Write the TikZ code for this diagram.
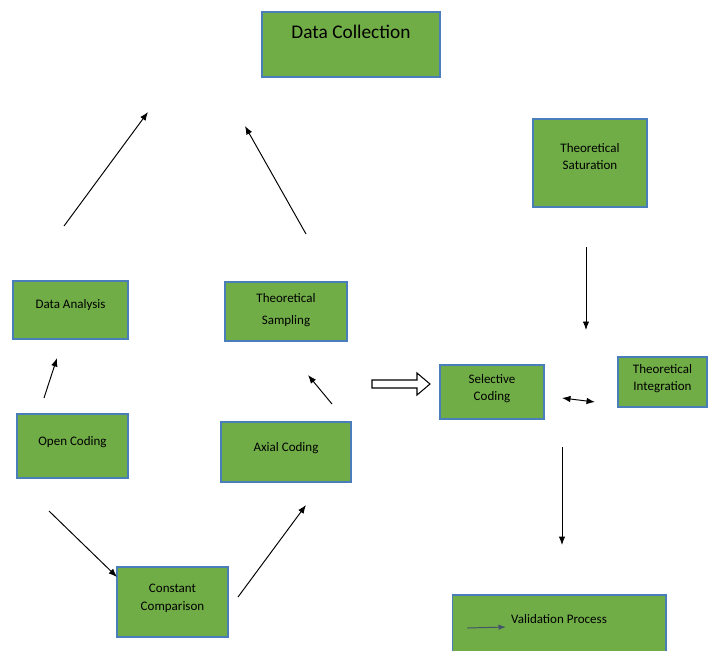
\documentclass[tikz,border=0pt]{standalone}
\usepackage{fontspec}
\setmainfont{Carlito}
\usetikzlibrary{arrows.meta}

\definecolor{boxgreen}{HTML}{70AD47}
\definecolor{boxline}{HTML}{4A7EBB}
\definecolor{slate}{HTML}{44546A}

\begin{document}
\begin{tikzpicture}[
  x=0.02cm, y=-0.02cm,
  font=\fontsize{7.4}{10}\selectfont,
  box/.style={draw=boxline, line width=0.6pt, fill=boxgreen, align=center, inner sep=0pt},
  arr/.style={-{Latex[length=1.7mm,width=1.3mm]}, line width=0.55pt}
]
  \clip (0,0) rectangle (709,650);

  % Top
  \node[box, minimum width=3.56cm, minimum height=1.3cm, text depth=0.5cm,
        font=\fontsize{11}{13}\selectfont] (datacoll) at (351,44.5) {Data Collection};
  \node[box, minimum width=2.28cm, minimum height=1.76cm, text depth=0.26cm] (saturation) at (590,163)
    {Theoretical\\Saturation};

  % Middle row
  \node[box, minimum width=2.3cm, minimum height=1.16cm, text depth=0.24cm] (analysis) at (70.5,310)
    {Data Analysis};
  \node[box, minimum width=2.44cm, minimum height=1.18cm, text depth=0.12cm,
        font=\fontsize{7.4}{12.5}\selectfont] (sampling) at (286,311.5) {Theoretical\\Sampling};
  \node[box, minimum width=2.08cm, minimum height=1.08cm, text depth=0.18cm] (selective) at (492,392)
    {Selective\\Coding};
  \node[box, minimum width=1.78cm, minimum height=1.0cm, text depth=0.18cm] (integration) at (662.5,382)
    {Theoretical\\Integration};

  % Coding row
  \node[box, minimum width=2.22cm, minimum height=1.28cm, text depth=0.2cm] (opencoding) at (72.5,446)
    {Open Coding};
  \node[box, minimum width=2.6cm, minimum height=1.2cm, text depth=0.2cm] (axial) at (286,452)
    {Axial Coding};

  % Bottom
  \node[box, minimum width=2.22cm, minimum height=1.4cm, text depth=0.18cm] (constant) at (172.5,602)
    {Constant\\Comparison};
  \node[box, minimum width=4.28cm, minimum height=1.4cm, text depth=0.44cm] (validation) at (559,630)
    {Validation Process};

  % Free arrow ends
  \coordinate (a1s) at (64,226);   \coordinate (a1e) at (148,112);
  \coordinate (a2s) at (306,234);  \coordinate (a2e) at (245,126);
  \coordinate (a3s) at (44,398);   \coordinate (a3e) at (57,358);
  \coordinate (a4s) at (332,404);  \coordinate (a4e) at (308,375);
  \coordinate (a5s) at (49,511);   \coordinate (a5e) at (117,577);
  \coordinate (a6s) at (238,597);  \coordinate (a6e) at (306,505);
  \coordinate (a7s) at (586,247);  \coordinate (a7e) at (586,330);
  \coordinate (a8s) at (562,398);  \coordinate (a8e) at (595,402);
  \coordinate (a9s) at (562,447);  \coordinate (a9e) at (562,545);
  \coordinate (vals) at (467,628); \coordinate (vale) at (506,627);

  % Flows
  \draw[arr] (a1s) -- (a1e);
  \draw[arr] (a2s) -- (a2e);
  \draw[arr] (a3s) -- (a3e);
  \draw[arr] (a4s) -- (a4e);
  \draw[arr] (a5s) -- (a5e);
  \draw[arr] (a6s) -- (a6e);
  \draw[arr] (a7s) -- (a7e);
  \draw[arr, {Latex[length=1.7mm,width=1.3mm]}-{Latex[length=1.7mm,width=1.3mm]}] (a8s) -- (a8e);
  \draw[arr] (a9s) -- (a9e);
  \draw[arr, draw=slate, -{Latex[length=1.5mm,width=1.1mm]}, fill=slate] (vals) -- (vale);

  % Block arrow to selective coding
  \draw[line width=0.6pt, fill=white]
    (372,380) -- (417,380) -- (417,373) -- (430,384) -- (417,395) -- (417,388) -- (372,388) -- cycle;
\end{tikzpicture}
\end{document}
